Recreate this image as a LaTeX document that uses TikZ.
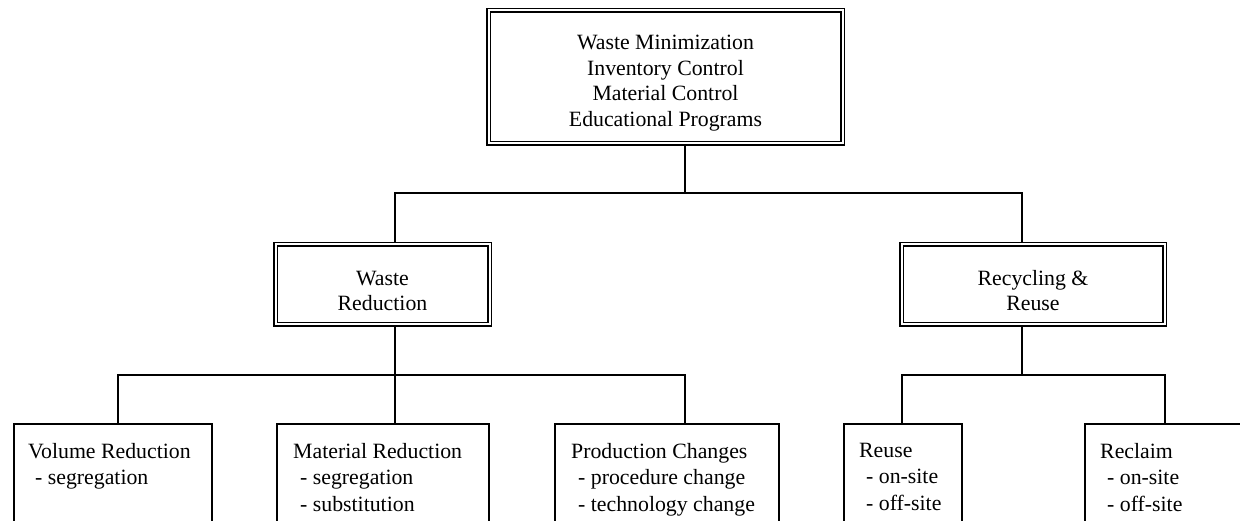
\documentclass[tikz,border=0pt]{standalone}
\usepackage{fontspec}
\setmainfont{Liberation Serif}
\newcommand\fsz{\fontsize{21.8}{25.5}\selectfont}
\newcommand\fszb{\fontsize{21.8}{26.5}\selectfont}
\newcommand\ind{\kern7pt}
\newcommand\tstrut{\rule{0pt}{27pt}}
\begin{document}
\begin{tikzpicture}[x=1pt,y=-1pt,
  dbox/.style={draw, rectangle, line width=1.6pt, double, double distance=2pt,
    outer sep=2.6pt, inner sep=0pt, align=center, font=\fsz},
  leaf/.style={draw, rectangle, line width=2pt, outer sep=1pt, inner sep=0pt,
    anchor=north west, minimum height=160pt},
  ltext/.style={anchor=north west, inner sep=0pt, align=left, font=\fszb},
  conn/.style={line width=2pt}]
\useasboundingbox (0,0) rectangle (1240,521);
\clip (0,0) rectangle (1240,521);
% top
\node[dbox, minimum width=354pt, minimum height=133pt] (top) at (665.5,77)
  {\tstrut Waste Minimization\\Inventory Control\\Material Control\\Educational Programs};
% middle
\node[dbox, minimum width=214pt, minimum height=80pt] (wr) at (382.5,284.5)
  {\tstrut Waste\\Reduction};
\node[dbox, minimum width=263pt, minimum height=80pt] (rr) at (1033,284.5)
  {\tstrut Recycling \&\\Reuse};
% leaves
\node[leaf, minimum width=198pt] (vr) at (13,423) {};
\node[leaf, minimum width=212pt] (mr) at (276,423) {};
\node[leaf, minimum width=224pt] (pc) at (554,423) {};
\node[leaf, minimum width=118pt] (ru) at (843,423) {};
\node[leaf, minimum width=200pt] (rc) at (1084,423) {};
\node[ltext, xshift=15pt, yshift=-20pt] (vrt) at (vr.north west) {Volume Reduction\\ \ind- segregation};
\node[ltext, xshift=17pt, yshift=-20pt] (mrt) at (mr.north west) {Material Reduction\\ \ind- segregation\\ \ind- substitution};
\node[ltext, xshift=17pt, yshift=-20pt] (pct) at (pc.north west) {Production Changes\\ \ind- procedure change\\ \ind- technology change};
\node[ltext, xshift=16pt, yshift=-20pt] (rut) at (ru.north west) {Reuse\\ \ind- on-site\\ \ind- off-site};
\node[ltext, xshift=16pt, yshift=-20pt] (rct) at (rc.north west) {Reclaim\\ \ind- on-site\\ \ind- off-site};
% junctions
\coordinate (tj) at (685,193);
\coordinate (ja) at (395,193);
\coordinate (jb) at (1022,193);
\coordinate (jc) at (395,375);
\coordinate (jd) at (1022,375);
\coordinate (vx) at (118,375);
\coordinate (px) at (685,375);
\coordinate (ux) at (902,375);
\coordinate (cx) at (1165,375);
% connectors
\draw[conn] (top.south -| tj) -- (tj);
\draw[conn] (wr.north -| ja) -- (ja) -- (jb) -- (rr.north -| jb);
\draw[conn] (wr.south -| jc) -- (jc);
\draw[conn] (mr.north -| jc) -- (jc);
\draw[conn] (vr.north -| vx) -- (vx) -- (px) -- (pc.north -| px);
\draw[conn] (rr.south -| jd) -- (jd);
\draw[conn] (ru.north -| ux) -- (ux) -- (cx) -- (rc.north -| cx);
\end{tikzpicture}
\end{document}
